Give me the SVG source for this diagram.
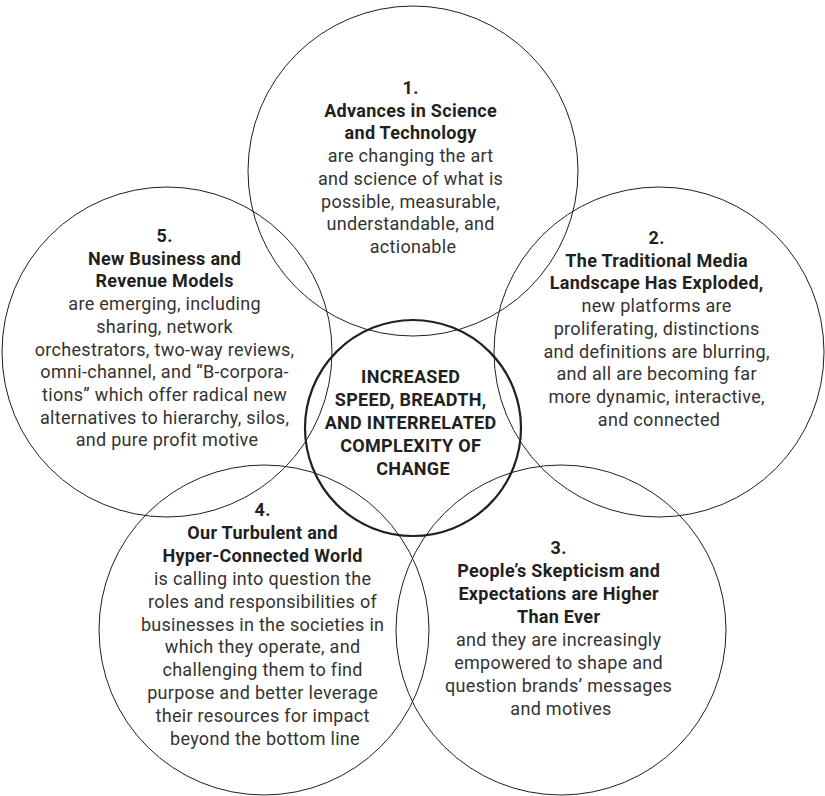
<svg xmlns="http://www.w3.org/2000/svg" width="825" height="796" viewBox="0 0 825 796">
  <style>
    .ring { fill: none; stroke: #231f20; stroke-width: 1; }
    .core { fill: none; stroke: #231f20; stroke-width: 2.2; }
    text { font-family: Roboto, "Liberation Sans", sans-serif; font-size: 18px; letter-spacing: 0.3px; fill: #333333; text-anchor: middle; }
    .b { font-weight: bold; fill: #231f20; }
  </style>
  <rect width="825" height="796" fill="#ffffff"/>

  <g id="node-1">
    <circle class="ring" cx="413" cy="171" r="165"/>
    <text x="413" y="94">
      <tspan class="b" x="413">1.</tspan>
      <tspan class="b" x="413" dy="22.7">Advances in Science</tspan>
      <tspan class="b" x="413" dy="22.7">and Technology</tspan>
      <tspan x="413" dy="22.7">are changing the art</tspan>
      <tspan x="413" dy="22.7">and science of what is</tspan>
      <tspan x="413" dy="22.7">possible, measurable,</tspan>
      <tspan x="413" dy="22.7">understandable, and</tspan>
      <tspan x="413" dy="22.7">actionable</tspan>
    </text>
  </g>

  <g id="node-5">
    <circle class="ring" cx="167" cy="352" r="165"/>
    <text x="167" y="242">
      <tspan class="b" x="167">5.</tspan>
      <tspan class="b" x="167" dy="22.7">New Business and</tspan>
      <tspan class="b" x="167" dy="22.7">Revenue Models</tspan>
      <tspan x="167" dy="22.7">are emerging, including</tspan>
      <tspan x="167" dy="22.7">sharing, network</tspan>
      <tspan x="167" dy="22.7">orchestrators, two-way reviews,</tspan>
      <tspan x="167" dy="22.7">omni-channel, and “B-corpora-</tspan>
      <tspan x="167" dy="22.7">tions” which offer radical new</tspan>
      <tspan x="167" dy="22.7">alternatives to hierarchy, silos,</tspan>
      <tspan x="167" dy="22.7">and pure profit motive</tspan>
    </text>
  </g>

  <g id="node-2">
    <circle class="ring" cx="659" cy="352" r="165"/>
    <text x="659" y="244">
      <tspan class="b" x="659">2.</tspan>
      <tspan class="b" x="659" dy="22.7">The Traditional Media</tspan>
      <tspan class="b" x="659" dy="22.7">Landscape Has Exploded,</tspan>
      <tspan x="659" dy="22.7">new platforms are</tspan>
      <tspan x="659" dy="22.7">proliferating, distinctions</tspan>
      <tspan x="659" dy="22.7">and definitions are blurring,</tspan>
      <tspan x="659" dy="22.7">and all are becoming far</tspan>
      <tspan x="659" dy="22.7">more dynamic, interactive,</tspan>
      <tspan x="659" dy="22.7">and connected</tspan>
    </text>
  </g>

  <g id="node-4">
    <circle class="ring" cx="264" cy="630" r="165"/>
    <text x="265" y="516">
      <tspan class="b" x="265">4.</tspan>
      <tspan class="b" x="265" dy="22.9">Our Turbulent and</tspan>
      <tspan class="b" x="265" dy="22.9">Hyper-Connected World</tspan>
      <tspan x="265" dy="22.9">is calling into question the</tspan>
      <tspan x="265" dy="22.9">roles and responsibilities of</tspan>
      <tspan x="265" dy="22.9">businesses in the societies in</tspan>
      <tspan x="265" dy="22.9">which they operate, and</tspan>
      <tspan x="265" dy="22.9">challenging them to find</tspan>
      <tspan x="265" dy="22.9">purpose and better leverage</tspan>
      <tspan x="265" dy="22.9">their resources for impact</tspan>
      <tspan x="265" dy="22.9">beyond the bottom line</tspan>
    </text>
  </g>

  <g id="node-3">
    <circle class="ring" cx="561" cy="630" r="165"/>
    <text x="561" y="554">
      <tspan class="b" x="561">3.</tspan>
      <tspan class="b" x="561" dy="23">People’s Skepticism and</tspan>
      <tspan class="b" x="561" dy="23">Expectations are Higher</tspan>
      <tspan class="b" x="561" dy="23">Than Ever</tspan>
      <tspan x="561" dy="23">and they are increasingly</tspan>
      <tspan x="561" dy="23">empowered to shape and</tspan>
      <tspan x="561" dy="23">question brands’ messages</tspan>
      <tspan x="561" dy="23">and motives</tspan>
    </text>
  </g>

  <g id="node-core">
    <circle class="core" cx="413" cy="428" r="108"/>
    <text x="413" y="383">
      <tspan class="b" x="413">INCREASED</tspan>
      <tspan class="b" x="413" dy="23">SPEED, BREADTH,</tspan>
      <tspan class="b" x="413" dy="23">AND INTERRELATED</tspan>
      <tspan class="b" x="413" dy="23">COMPLEXITY OF</tspan>
      <tspan class="b" x="413" dy="23">CHANGE</tspan>
    </text>
  </g>

  <g id="connectors"></g>
</svg>
